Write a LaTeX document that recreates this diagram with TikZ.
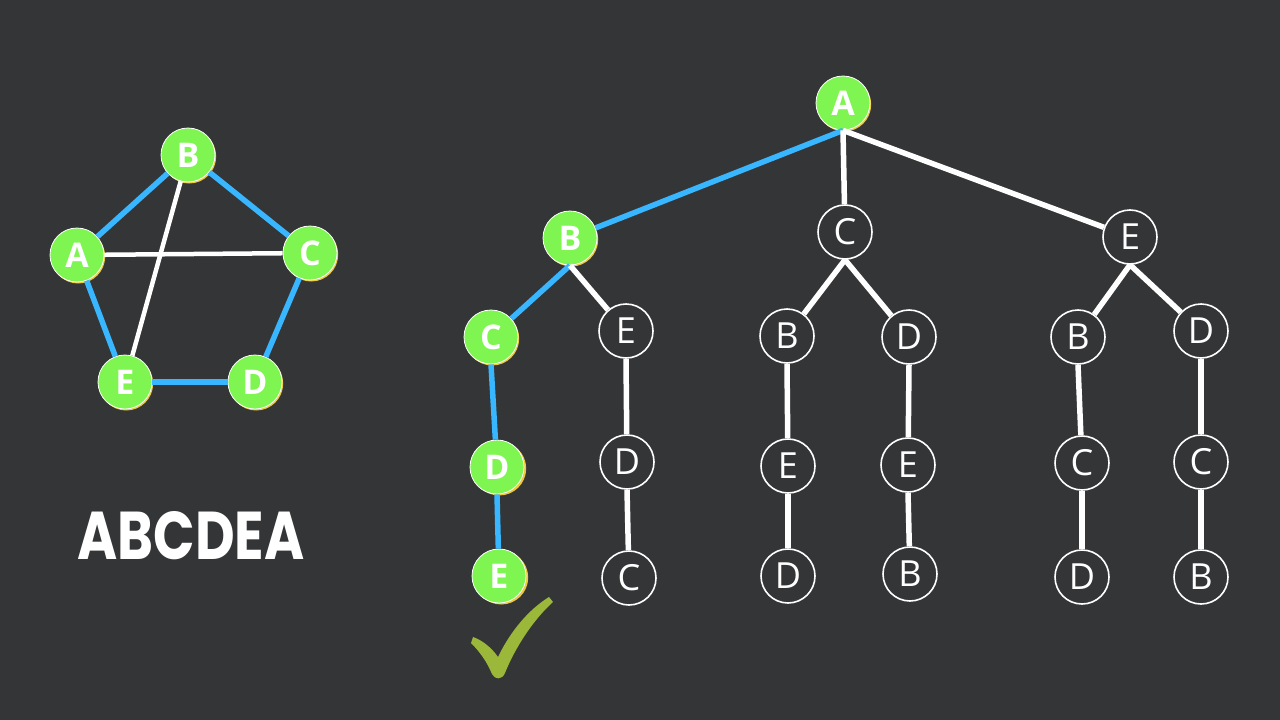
\documentclass[tikz,border=0pt]{standalone}
\usepackage{fontspec}
\setmainfont{Open Sans}
\newfontfamily\brushfont{Poppins}
\definecolor{bg}{RGB}{52,53,55}
\definecolor{lime}{RGB}{126,245,80}
\definecolor{skyb}{RGB}{56,182,255}
\definecolor{shad}{RGB}{240,200,60}
\definecolor{olive}{RGB}{156,184,58}
\tikzset{
  gnode/.style={circle, fill=lime, draw=white, line width=0.8pt, minimum size=54pt, inner sep=0pt,
    text=white, font=\fontsize{34}{34}\selectfont\bfseries},
  onode/.style={circle, draw=white, line width=1.6pt, minimum size=54pt, inner sep=0pt,
    text=white, font=\fontsize{36}{36}\selectfont},
  bedge/.style={draw=skyb, line width=5.5pt},
  wedge/.style={draw=white, line width=5.5pt},
  xedge/.style={draw=white, line width=4.5pt},
}
\begin{document}
\begin{tikzpicture}[x=1pt,y=-1pt]
\fill[bg] (0,0) rectangle (1280,720);
\useasboundingbox (0,0) rectangle (1280,720);

% ---------- pentagon graph ----------
\foreach \p in {(188,155),(77,255),(310,253),(125,382),(255,382)}
  \fill[shad] \p ++(1.2,1.5) circle (27);
\node[gnode] (pB) at (188,155) {B};
\node[gnode] (pA) at (77,255) {A};
\node[gnode] (pC) at (310,253) {C};
\node[gnode] (pE) at (125,382) {E};
\node[gnode] (pD) at (255,382) {D};

% ---------- tree ----------
\foreach \p in {(843,103),(570,238),(491,337),(498,467),(500,576)}
  \fill[shad] \p ++(1.2,1.5) circle (27);
\node[gnode] (tA) at (843,103) {A};
\node[gnode] (tB) at (570,238) {B};
\node[onode] (tC) at (845,232) {C};
\node[onode] (tE) at (1130,237) {E};

\node[gnode] (tBC) at (491,337) {C};
\node[onode] (tBE) at (626,331) {E};
\node[onode] (tCB) at (787,336) {B};
\node[onode] (tCD) at (909,337) {D};
\node[onode] (tEB) at (1078,337) {B};
\node[onode] (tED) at (1201,331) {D};

\node[gnode] (tBCD) at (497,467) {D};
\node[onode] (tBED) at (627,462) {D};
\node[onode] (tCBE) at (788,466) {E};
\node[onode] (tCDE) at (908,465) {E};
\node[onode] (tEBC) at (1082,463) {C};
\node[onode] (tEDC) at (1201,462) {C};

\node[gnode] (tBCDE) at (499,576) {E};
\node[onode] (tBEDC) at (629,578) {C};
\node[onode] (tCBED) at (788,576) {D};
\node[onode] (tCDEB) at (910,574) {B};
\node[onode] (tEBCD) at (1082,577) {D};
\node[onode] (tEDCB) at (1201,577) {B};

% pentagon edges
\draw[bedge] (pA) -- (pB);
\draw[bedge] (pB) -- (pC);
\draw[bedge] (pC) -- (pD);
\draw[bedge] (pD) -- (pE);
\draw[bedge] (pE) -- (pA);
\draw[xedge] (pA) -- (pC);
\draw[xedge] (pB) -- (pE);

% tree edges
\draw[bedge] (tA.south) -- (tB);
\draw[wedge] (tA.south) -- (tC);
\draw[wedge] (tA.south) -- (tE);
\draw[bedge] (tB.south) -- (tBC);
\draw[wedge] (tB.south) -- (tBE);
\draw[wedge] (tC.south) -- (tCB);
\draw[wedge] (tC.south) -- (tCD);
\draw[wedge] (tE.south) -- (tEB);
\draw[wedge] (tE.south) -- (tED);
\draw[bedge] (tBC.south) -- (tBCD);
\draw[wedge] (tBE.south) -- (tBED);
\draw[wedge] (tCB.south) -- (tCBE);
\draw[wedge] (tCD.south) -- (tCDE);
\draw[wedge] (tEB.south) -- (tEBC);
\draw[wedge] (tED.south) -- (tEDC);
\draw[bedge] (tBCD.south) -- (tBCDE);
\draw[wedge] (tBED.south) -- (tBEDC);
\draw[wedge] (tCBE.south) -- (tCBED);
\draw[wedge] (tCDE.south) -- (tCDEB);
\draw[wedge] (tEBC.south) -- (tEBCD);
\draw[wedge] (tEDC.south) -- (tEDCB);

% path label
\node[text=white, inner sep=0pt] (path) at (191,536)
  {\resizebox{227pt}{48pt}{\brushfont\bfseries ABCDEA}};

% check mark
\fill[olive] (473,637) .. controls (482,640) and (492,648) .. (498,657)
  .. controls (510,632) and (528,610) .. (549,597) -- (553,602)
  .. controls (533,620) and (515,648) .. (505,673)
  .. controls (502,680) and (495,680) .. (492,674)
  .. controls (487,662) and (480,652) .. (471,643) -- cycle;
\end{tikzpicture}
\end{document}
